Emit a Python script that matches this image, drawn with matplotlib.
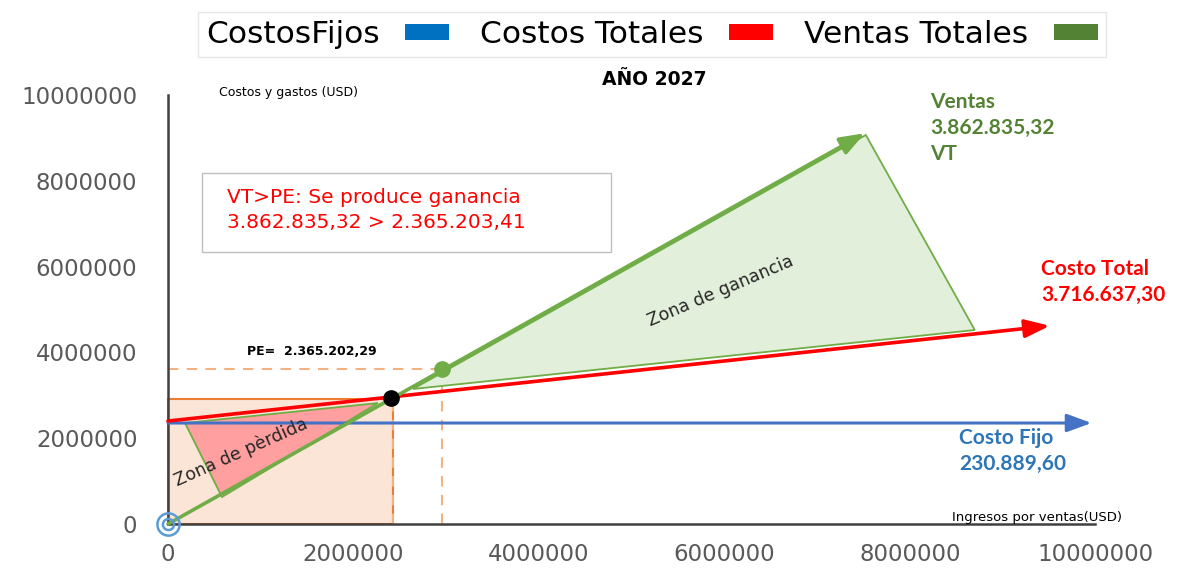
import matplotlib
matplotlib.use("Agg")
import matplotlib.pyplot as plt
from matplotlib.patches import Rectangle, Polygon, Patch

plt.rcParams['font.family'] = ['DejaVu Sans']

# ---- data ----
legend_labels = ['CostosFijos', 'Costos Totales', 'Ventas Totales']
legend_colors = ['#0070C0', '#FF0000', '#548235']

x_ticks = [0, 2000000, 4000000, 6000000, 8000000, 10000000]
y_ticks = [0, 2000000, 4000000, 6000000, 8000000, 10000000]

# lines with arrows (start -> end)
costo_fijo_x = [0, 9960000]
costo_fijo_y = [2354000, 2354000]
costo_total_x = [0, 9510000]
costo_total_y = [2400000, 4620000]
ventas_x = [0, 7515000]
ventas_y = [0, 9110000]

# points
pe_x, pe_y = 2404000, 2937000       # punto de equilibrio
vt_x, vt_y = 2954000, 3613000       # ventas totales

# zones
perdida_x = [183000, 2264000, 582000]
perdida_y = [2354000, 2820000, 629000]
ganancia_x = [2642000, 7526000, 8701000]
ganancia_y = [3147000, 9068000, 4522000]
rect_w, rect_h = 2426000, 2914000

# ---- figure ----
fig = plt.figure(figsize=(12, 5.7), dpi=100)
ax = fig.add_axes([130 / 1200, 30 / 570, 1070 / 1200, 480 / 570])
ax.set_xlim(-410000, 11130000)
ax.set_ylim(-373000, 10816000)

# axes look like the excel one
for s in ['top', 'right']:
    ax.spines[s].set_visible(False)
ax.spines['left'].set_position(('data', 0))
ax.spines['bottom'].set_position(('data', 0))
ax.spines['left'].set_bounds(0, 10000000)
ax.spines['bottom'].set_bounds(0, 10000000)
for s in ['left', 'bottom']:
    ax.spines[s].set_color('#404040')
    ax.spines[s].set_linewidth(1.8)
ax.set_xticks(x_ticks)
ax.set_yticks(y_ticks)
ax.set_xticklabels([str(v) for v in x_ticks])
ax.set_yticklabels([str(v) for v in y_ticks])
ax.tick_params(axis='x', length=0, pad=14, labelsize=16.5, labelcolor='#595959')
ax.tick_params(axis='y', length=0, pad=22, labelsize=16.5, labelcolor='#595959')

# orange rectangle (zona bajo el PE)
ax.add_patch(Rectangle((0, 0), rect_w, rect_h, facecolor='#FBE5D6',
                       edgecolor='#ED7D31', lw=1.5, zorder=1))

# dashed guide lines
dash = dict(color='#F4B183', lw=1.5, ls=(0, (5, 4)), zorder=2)
ax.plot([0, vt_x], [vt_y, vt_y], **dash)
ax.plot([vt_x, vt_x], [0, vt_y], **dash)
ax.plot([rect_w, rect_w], [0, pe_y], **dash)

# zones
ax.add_patch(Polygon(list(zip(ganancia_x, ganancia_y)), closed=True,
                     facecolor='#E2EFDA', edgecolor='#70AD47', lw=1.3, zorder=2))
ax.add_patch(Polygon(list(zip(perdida_x, perdida_y)), closed=True,
                     facecolor='#FF9F9F', edgecolor='#70AD47', lw=1.3, zorder=3))


def arrow(xs, ys, color, lw):
    ax.annotate('', xy=(xs[1], ys[1]), xytext=(xs[0], ys[0]),
                arrowprops=dict(arrowstyle='-|>,head_length=0.6,head_width=0.22',
                                color=color, lw=lw, mutation_scale=25,
                                shrinkA=0, shrinkB=0), zorder=4)


arrow(costo_fijo_x, costo_fijo_y, '#4472C4', 2.2)
arrow(costo_total_x, costo_total_y, '#FF0000', 2.6)
arrow(ventas_x, ventas_y, '#70AD47', 2.6)

# points
ax.plot(pe_x, pe_y, 'o', color='black', ms=11, zorder=6)
ax.plot(vt_x, vt_y, 'o', color='#70AD47', ms=11, zorder=6)
# target marker at origin
ax.plot(0, 0, 'o', ms=16, mfc='none', mec='#5B9BD5', mew=1.8, zorder=5)
ax.plot(0, 0, 'o', ms=8, mfc='none', mec='#5B9BD5', mew=1.8, zorder=5)

# texts
ax.text(5250000, 10350000, 'AÑO 2027', ha='center', va='center',
        fontsize=13.5, fontweight='bold')
ax.text(550000, 10070000, 'Costos y gastos (USD)', ha='left', va='center', fontsize=9)
ax.text(8450000, 163000, 'Ingresos por ventas(USD)', ha='left', va='center', fontsize=9.5)

ax.add_patch(Rectangle((367000, 6340000), 4409000, 1840000, facecolor='white',
                       edgecolor='#BFBFBF', lw=1, zorder=4))
ax.text(636000, 7320000, 'VT>PE: Se produce ganancia\n3.862.835,32 > 2.365.203,41',
        ha='left', va='center', fontsize=14.5, color='#FF0000',
        linespacing=1.45, zorder=5)

ax.text(852000, 4010000, 'PE=  2.365.202,29', ha='left', va='center',
        fontsize=9, fontweight='bold')

ax.text(8216000, 9230000, 'Ventas\n3.862.835,32\nVT', ha='left', va='center',
        fontsize=15, fontweight='bold', color='#548235', family='Lato',
        linespacing=1.35)
ax.text(9420000, 5640000, 'Costo Total\n3.716.637,30', ha='left', va='center',
        fontsize=15, fontweight='bold', color='#FF0000', family='Lato',
        linespacing=1.35)
ax.text(8530000, 1700000, 'Costo Fijo\n230.889,60', ha='left', va='center',
        fontsize=15, fontweight='bold', color='#2E75B6', family='Lato',
        linespacing=1.35)

ax.text(787000, 1678000, 'Zona de pèrdida', ha='center', va='center',
        rotation=24, fontsize=12.5, color='#262626', zorder=6)
ax.text(5960000, 5430000, 'Zona de ganancia', ha='center', va='center',
        rotation=23, fontsize=12.5, color='#262626', zorder=6)

# legend at top (text before the colour swatch, like the original)
handles = [Patch(facecolor=c, edgecolor='none') for c in legend_colors]
fig.legend(handles, legend_labels, loc='upper center', ncol=3,
           bbox_to_anchor=(652 / 1200, 1 - 12 / 570), borderaxespad=0,
           markerfirst=False, fontsize=22.5, handlelength=1.42, handleheight=0.4,
           handletextpad=0.8, columnspacing=1.0, borderpad=0.25, fancybox=False,
           edgecolor='#E6E6E6', framealpha=1)

fig.savefig('out.png', dpi=100)
